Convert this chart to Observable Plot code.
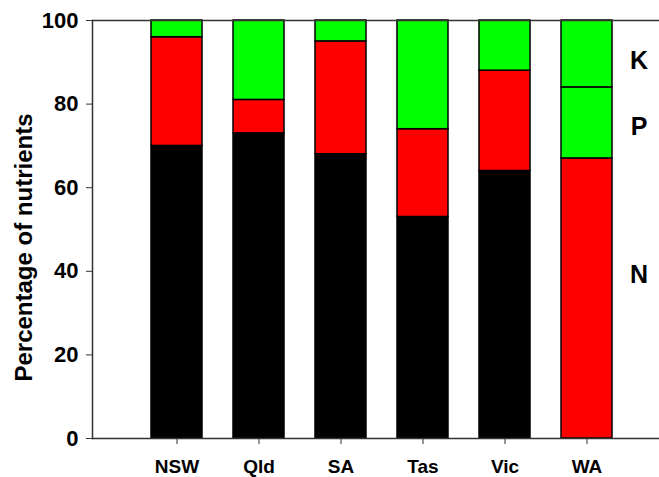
<!DOCTYPE html>
<html><head><meta charset="utf-8">
<script src="https://cdn.jsdelivr.net/npm/d3@7"></script>
<script src="https://cdn.jsdelivr.net/npm/@observablehq/plot@0.6"></script>
<style>body{margin:0;background:#fff;}</style>
</head><body><div id="chart"></div>
<script>
const states = ["NSW", "Qld", "SA", "Tas", "Vic", "WA"];
const nValues = [70, 73, 68, 53, 64, 67];
const pValues = [26, 8, 27, 21, 24, 17];
const kValues = [4, 19, 5, 26, 12, 16];
const nColors = ["#000000", "#000000", "#000000", "#000000", "#000000", "#ff0000"];
const pColors = ["#ff0000", "#ff0000", "#ff0000", "#ff0000", "#ff0000", "#00ff00"];
const kColors = ["#00ff00", "#00ff00", "#00ff00", "#00ff00", "#00ff00", "#00ff00"];
const nutrients = ["N", "P", "K"];
const nutrientLabelY = [39, 74.5, 90.3];
const yTicks = [0, 20, 40, 60, 80, 100];
const yLabel = "Percentage of nutrients";

const rows = [];
states.forEach((s, i) => {
  rows.push({state: s, nutrient: "N", value: nValues[i], color: nColors[i]});
  rows.push({state: s, nutrient: "P", value: pValues[i], color: pColors[i]});
  rows.push({state: s, nutrient: "K", value: kValues[i], color: kColors[i]});
});

const chart = Plot.plot({
  width: 659, height: 477,
  marginLeft: 92, marginRight: 0, marginTop: 20, marginBottom: 39,
  style: {fontFamily: "'Liberation Sans', Arial, sans-serif", fontWeight: "bold", background: "#fff", color: "#000", overflow: "visible"},
  x: {domain: states, range: [132.6, 629.4], paddingInner: 0.384, paddingOuter: 0.192, label: null},
  y: {domain: [0, 100], label: null},
  color: {type: "identity"},
  marks: [
    Plot.barY(rows, {x: "state", y: "value", z: "nutrient", fill: "color", stroke: "#000", strokeWidth: 1.5}),
    Plot.ruleY([0, 100], {stroke: "#333", strokeWidth: 1.5}),
    Plot.frame({anchor: "left", stroke: "#333", strokeWidth: 1.5}),
    Plot.axisY({ticks: yTicks, tickSize: 6, tickPadding: 8, fontSize: 22, label: null, stroke: "#333"}),
    Plot.axisX({tickSize: 6, tickPadding: 15, fontSize: 19, label: null, stroke: "#333"}),
    Plot.text([yLabel], {text: d => d, frameAnchor: "left", textAnchor: "middle", rotate: -90, dx: -68, dy: 18, fontSize: 24, fontWeight: "bold", fill: "#000"}),
    Plot.text(nutrients, {text: d => d, x: () => "WA", y: (d, i) => nutrientLabelY[i], dx: 52, fontSize: 25, fontWeight: "bold", fill: "#000"})
  ]
});
document.getElementById("chart").appendChild(chart);
</script>
</body></html>
